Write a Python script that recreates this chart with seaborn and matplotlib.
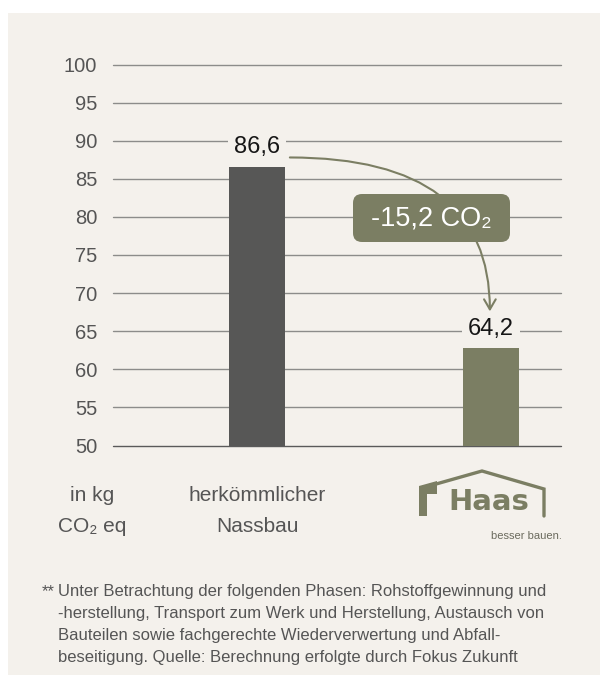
import matplotlib
matplotlib.use("Agg")
import matplotlib.pyplot as plt
import matplotlib.transforms as mtransforms
from matplotlib.patches import Rectangle, Polygon, FancyBboxPatch
import pandas as pd
import seaborn as sns

# data
categories = ["herkömmlicher\nNassbau", "Haas"]
bar_heights = [86.6, 62.8]
value_labels = ["86,6", "64,2"]
diff_label = "-15,2 CO\u2082"
y_ticks = [50, 55, 60, 65, 70, 75, 80, 85, 90, 95, 100]
unit_label = "in kg\nCO\u2082 eq"
footnote = [
    "Unter Betrachtung der folgenden Phasen: Rohstoffgewinnung und",
    "-herstellung, Transport zum Werk und Herstellung, Austausch von",
    "Bauteilen sowie fachgerechte Wiederverwertung und Abfall-",
    "beseitigung. Quelle: Berechnung erfolgte durch Fokus Zukunft",
]

bg = "#f4f1ec"
dark = "#575756"
green = "#7b7e63"
grey_txt = "#555555"

sns.set_theme(style="white")
plt.rcParams["font.family"] = ["Liberation Sans", "DejaVu Sans"]

fig = plt.figure(figsize=(6.0, 6.79), dpi=100, facecolor="white")
# pixel transform (origin top left)
px = mtransforms.Affine2D().scale(1 / 600, -1 / 679).translate(0, 1) + fig.transFigure

fig.patches.append(Rectangle((8, 13), 600, 662, transform=px, facecolor=bg,
                             edgecolor="none", zorder=-10))

ax = fig.add_axes([113 / 600, 1 - 445.5 / 679, 448 / 600, 381 / 679])
ax.set_facecolor("none")

df = pd.DataFrame({"kategorie": categories, "wert": bar_heights})
sns.barplot(data=df, x="kategorie", y="wert", hue="kategorie",
            palette=[dark, green], width=0.239, legend=False, ax=ax,
            saturation=1, linewidth=0, zorder=3)

ax.set_ylim(50, 100)
ax.set_xlim(-0.615, 1.30)
ax.set_yticks(y_ticks)
ax.set_yticklabels([str(t) for t in y_ticks])
ax.tick_params(axis="y", length=0, pad=11.5, labelsize=14.5, labelcolor=grey_txt)
ax.set_xticks([])
ax.set_xlabel("")
ax.set_ylabel("")
for s in ax.spines.values():
    s.set_visible(False)
for t in y_ticks:
    ax.axhline(t, color="#8c8c8a" if t > 50 else "#5a5a5a", lw=1.0, zorder=1,
               clip_on=False)

# value labels
for i, (h, lab) in enumerate(zip(bar_heights, value_labels)):
    ax.annotate(lab, (i, h), xytext=(0, 14), textcoords="offset points",
                ha="center", va="center", fontsize=17, color="#161616", zorder=5,
                bbox=dict(boxstyle="square,pad=0.25", fc=bg, ec="none"))

# curved arrow
ax.annotate("", xy=(0.996, 67.6), xytext=(0.141, 87.8),
            arrowprops=dict(arrowstyle="->,head_length=0.6,head_width=0.35",
                            connectionstyle="angle3,angleA=0,angleB=90",
                            color=green, lw=1.5, shrinkA=0, shrinkB=0),
            zorder=4)
ax.add_patch(FancyBboxPatch((353, 194), 157, 48,
                            boxstyle="round,pad=0,rounding_size=9",
                            transform=px, clip_on=False,
                            fc=green, ec="none", zorder=6))
ax.text(0.746, 79.8, diff_label, ha="center", va="center", fontsize=19.5,
        color="white", zorder=7)

# category labels under the axis
fig.text(92, 511, unit_label, transform=px, ha="center", va="center",
         fontsize=15, color=grey_txt, linespacing=1.75)
fig.text(257, 511, categories[0], transform=px, ha="center", va="center",
         fontsize=15, color=grey_txt, linespacing=1.75)

# Haas logo
roof = [(422, 488), (482, 471), (544, 489), (544, 516)]
fig.lines.append(plt.Line2D([p[0] for p in roof], [p[1] for p in roof],
                            transform=px, color=green, lw=2.4,
                            solid_joinstyle="miter"))
fig.patches.append(Polygon([(419, 486), (437, 481), (437, 494), (427, 494),
                            (427, 516), (419, 516)], closed=True, transform=px,
                           facecolor=green, edgecolor="none"))
fig.text(489, 510, "Haas", transform=px, ha="center", va="baseline",
         fontsize=21, fontweight="bold", color=green, family="DejaVu Sans")
fig.text(562, 539, "besser bauen.", transform=px, ha="right", va="baseline",
         fontsize=8, color="#6b6b5e")

# footnote
fig.text(55, 596, "**", transform=px, ha="right", va="baseline", fontsize=12,
         color=grey_txt)
for k, line in enumerate(footnote):
    fig.text(58, 596 + 22 * k, line, transform=px, ha="left", va="baseline",
             fontsize=12, color=grey_txt)

fig.savefig("out.png", dpi=100, facecolor="white")
